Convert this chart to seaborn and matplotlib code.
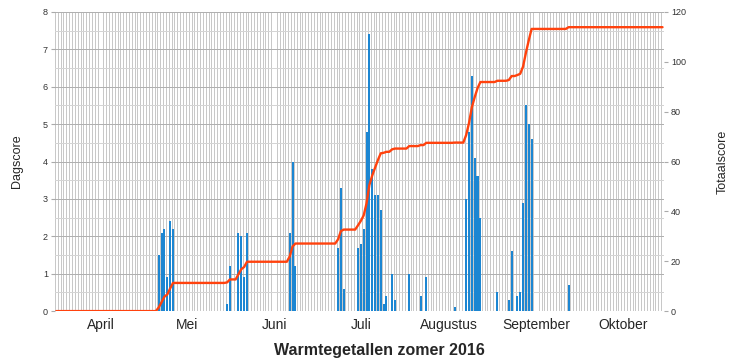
import matplotlib
matplotlib.use("Agg")
import matplotlib.pyplot as plt
import seaborn as sns
import pandas as pd
import numpy as np

# daily scores (only days with a score); all other days are 0
score_dates = [
    "2016-05-07", "2016-05-08", "2016-05-09", "2016-05-10", "2016-05-11", "2016-05-12",
    "2016-05-31", "2016-06-01", "2016-06-04", "2016-06-05", "2016-06-06", "2016-06-07",
    "2016-06-22", "2016-06-23", "2016-06-24",
    "2016-07-09", "2016-07-10", "2016-07-11",
    "2016-07-16", "2016-07-17", "2016-07-18", "2016-07-19", "2016-07-20", "2016-07-21",
    "2016-07-22", "2016-07-23", "2016-07-24", "2016-07-25", "2016-07-26", "2016-07-28",
    "2016-07-29", "2016-08-03", "2016-08-07", "2016-08-09", "2016-08-19",
    "2016-08-23", "2016-08-24", "2016-08-25", "2016-08-26", "2016-08-27", "2016-08-28",
    "2016-09-03", "2016-09-07", "2016-09-08", "2016-09-10", "2016-09-11",
    "2016-09-12", "2016-09-13", "2016-09-14", "2016-09-15", "2016-09-28",
]
score_values = [
    1.5, 2.1, 2.2, 0.9, 2.4, 2.2,
    0.2, 1.2, 2.1, 2.0, 0.9, 2.1,
    2.1, 4.0, 1.2,
    1.7, 3.3, 0.6,
    1.7, 1.8, 2.2, 4.8, 7.4, 3.8,
    3.1, 3.1, 2.7, 0.2, 0.4, 1.0,
    0.3, 1.0, 0.4, 0.9, 0.1,
    3.0, 4.8, 6.3, 4.1, 3.6, 2.5,
    0.5, 0.3, 1.6, 0.4, 0.5,
    2.9, 5.5, 5.0, 4.6, 0.7,
]
months = ["April", "Mei", "Juni", "Juli", "Augustus", "September", "Oktober"]

days = pd.date_range("2016-04-01", "2016-10-31", freq="D")
daily = pd.Series(score_values, index=pd.to_datetime(score_dates)).reindex(days, fill_value=0.0)
df = pd.DataFrame({"pos": np.arange(len(days)) + 0.5, "dag": daily.values})
df["totaal"] = df["dag"].cumsum()

sns.set_style("white")
plt.rcParams["font.family"] = ["Liberation Sans", "DejaVu Sans"]

fig = plt.figure(figsize=(7.32, 3.63), dpi=100)
ax = fig.add_axes([0.075, 0.143, 0.832, 0.824])

sns.barplot(data=df, x="pos", y="dag", native_scale=True, width=0.72,
            color="#1c86d2", saturation=1, edgecolor="none", linewidth=0,
            ax=ax, zorder=3)

ax.set_xlim(0, len(days))
ax.set_ylim(0, 8)
ax.set_yticks(np.arange(0, 9, 1))
ax.set_yticks(np.arange(0.5, 8, 1), minor=True)
ax.set_xticks(np.arange(0, len(days) + 1, 1), minor=True)

# month labels around mid-month
starts = [(pd.Timestamp(2016, m, 1) - days[0]).days for m in range(4, 11)]
lengths = [pd.Timestamp(2016, m, 1).days_in_month for m in range(4, 11)]
ax.set_xticks([s + l / 2 + 1 for s, l in zip(starts, lengths)])
ax.set_xticklabels(months, fontsize=10)
ax.tick_params(axis="x", which="both", length=0, pad=5)
ax.tick_params(axis="y", which="major", labelsize=6.5, labelcolor="#333333",
               length=3, color="#aaaaaa", pad=2)
ax.tick_params(axis="y", which="minor", length=0)

ax.grid(True, axis="x", which="minor", color="#c8c8c8", linewidth=0.72,
        antialiased=False, zorder=0)
ax.grid(True, axis="y", which="major", color="#b0b0b0", linewidth=0.72,
        antialiased=False, zorder=0)
ax.grid(True, axis="y", which="minor", color="#d4d4d4", linewidth=0.72,
        antialiased=False, zorder=0)
ax.set_axisbelow(True)
for s in ax.spines.values():
    s.set_visible(False)
ax.set_xlabel("")
ax.set_ylabel("Dagscore", fontsize=9, labelpad=14)

ax2 = ax.twinx()
sns.lineplot(data=df, x="pos", y="totaal", color="#ff420e", linewidth=1.7, ax=ax2, zorder=4)
ax2.set_ylim(0, 120)
ax2.set_yticks(np.arange(0, 121, 20))
ax2.tick_params(axis="y", labelsize=6.5, labelcolor="#333333", length=3,
                color="#aaaaaa", pad=2)
for s in ax2.spines.values():
    s.set_visible(False)
ax2.set_xlabel("")
ax2.set_ylabel("Totaalscore", fontsize=9, labelpad=22)
ax2.set_xlim(0, len(days))

fig.text(0.519, 0.035, "Warmtegetallen zomer 2016", ha="center", va="center",
         fontsize=11.5, fontweight="bold")

fig.savefig("out.png", dpi=100)
